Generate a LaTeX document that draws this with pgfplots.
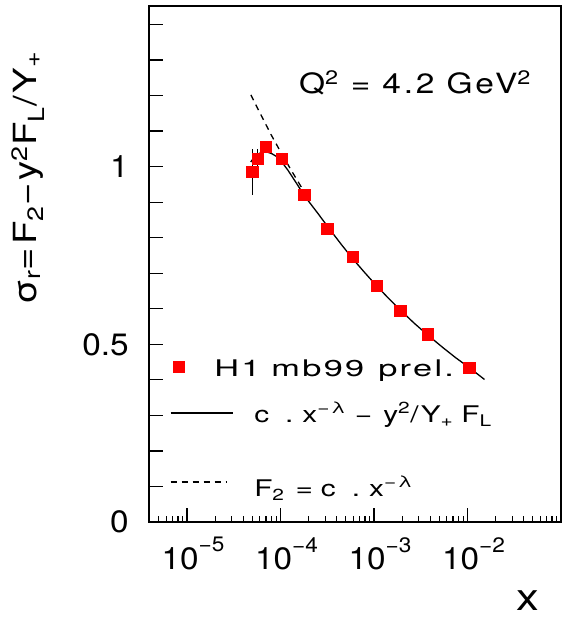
\documentclass[border=0pt]{standalone}
\usepackage{fontspec}
\setmainfont{TeX Gyre Heros}
\newfontfamily\txtfont[FakeStretch=1.2,LetterSpace=10]{TeX Gyre Heros}
\newfontfamily\legtfont[FakeStretch=1.3,LetterSpace=10]{TeX Gyre Heros}
\newfontfamily\legwfont[FakeStretch=1.5,LetterSpace=10]{TeX Gyre Heros}
\newfontfamily\tkfont[FakeStretch=1.08]{TeX Gyre Heros}
\usepackage{pgfplots}
\pgfplotsset{compat=1.18}
\newcommand\tickfont{\tkfont\fontsize{31}{31}\selectfont}
\newcommand\legfont{\legtfont\fontsize{23}{23}\selectfont}
\newcommand\ex[1]{\raisebox{0.58em}{\fontsize{21}{21}\selectfont #1}}
\pgfplotsset{
  solidleg/.style={legend image code/.code={\draw[##1] (0bp,0bp) -- (62bp,0bp);}},
  dashleg/.style={legend image code/.code={\draw[##1] (0bp,0bp) -- (56bp,0bp);}},
}

\pgfplotstableread{
x y e
5.0e-5 0.985 0.064
5.73e-5 1.021 0.029
6.97e-5 1.055 0.018
1.035e-4 1.022 0.012
1.795e-4 0.920 0.008
3.19e-4 0.825 0.006
5.97e-4 0.745 0.005
1.07e-3 0.664 0.005
1.92e-3 0.594 0.005
3.80e-3 0.528 0.005
1.05e-2 0.433 0.005
}\datatab

\pgfplotstableread{
x y
4.8e-5 1.013
5.2e-5 1.025
5.6e-5 1.033
6.2e-5 1.040
7.0e-5 1.042
8.0e-5 1.037
9.0e-5 1.029
1.0e-4 1.018
1.2e-4 0.990
1.5e-4 0.951
1.8e-4 0.918
2.5e-4 0.869
3.2e-4 0.831
4.5e-4 0.780
6.0e-4 0.739
8.0e-4 0.701
1.07e-3 0.664
1.4e-3 0.632
1.92e-3 0.596
2.7e-3 0.559
3.8e-3 0.525
5.5e-3 0.490
7.5e-3 0.462
1.05e-2 0.434
1.52e-2 0.401
}\solidtab

\pgfplotstableread{
x y
4.82e-5 1.202
6.0e-5 1.152
8.0e-5 1.088
1.0e-4 1.042
1.3e-4 0.990
1.63e-4 0.947
2.0e-4 0.909
}\dashtab

\begin{document}
\begin{tikzpicture}
\begin{axis}[
  name=ax,
  scale only axis, width=412bp, height=516bp,
  xmode=log, xmin=3.92e-6, xmax=0.1, ymin=0, ymax=1.452,
  axis line style={line width=1.2bp},
  every tick/.style={black, line width=1.2bp},
  tick align=inside, tick pos=left,
  major tick length=14bp, minor tick length=6bp,
  xtick={1e-5,1e-4,1e-3,1e-2},
  xticklabels={10\ex{−5},10\ex{−4},10\ex{−3},10\ex{−2}},
  minor xtick={4e-6,5e-6,6e-6,7e-6,8e-6,9e-6,
    2e-5,3e-5,4e-5,5e-5,6e-5,7e-5,8e-5,9e-5,
    2e-4,3e-4,4e-4,5e-4,6e-4,7e-4,8e-4,9e-4,
    2e-3,3e-3,4e-3,5e-3,6e-3,7e-3,8e-3,9e-3,
    2e-2,3e-2,4e-2,5e-2,6e-2,7e-2,8e-2,9e-2},
  ytick={0,0.1,0.2,0.3,0.4,0.5,0.6,0.7,0.8,0.9,1,1.1,1.2,1.3,1.4},
  yticklabels={0,,,,,0.5,,,,,1,,,,},
  tick label style={font=\tickfont},
  xticklabel style={inner sep=0pt, anchor=north, yshift=-15bp, xshift=6bp},
  yticklabel style={inner sep=0pt, anchor=east, xshift=-20bp},
  xlabel={x},
  xlabel style={font=\txtfont\fontsize{38}{38}\selectfont, inner sep=0pt, at={(axis description cs:0.92,-0.153)}, anchor=center},
  ylabel={σ\textsubscript{r}=F\textsubscript{2}−y\textsuperscript{2}F\textsubscript{L}/Y\textsubscript{+}},
  ylabel style={font=\txtfont\fontsize{32}{32}\selectfont, inner sep=0pt, at={(axis description cs:-0.2935,0.667)}, anchor=center},
  legend style={draw=none, fill=none, inner sep=0pt, outer sep=0pt, row sep=3bp, column sep=21bp,
    cells={anchor=west}, nodes={inner sep=0pt, text height=20bp, text depth=0bp, font=\legfont},
    at={(axis description cs:0.05097,0.3198)}, anchor=north west},
  clip=false,
]
\addplot[only marks, mark=none, forget plot,
  error bars/.cd, y dir=both, y explicit, error mark=none,
  error bar style={black, line width=1bp}]
  table[x=x, y=y, y error=e] {\datatab};
\addplot[only marks, mark=square*, mark size=5.75bp, red, mark options={draw=red, fill=red, line width=0pt}]
  table[x=x, y=y] {\datatab};
\addlegendentry{\hspace*{-40bp}\legwfont H1\hspace{11bp}mb99\hspace{14bp}prel.}
\addlegendimage{empty legend}
\addlegendentry{\mbox{}}
\addplot[black, line width=1.3bp, mark=none, solidleg]
  table[x=x, y=y] {\solidtab};
\addlegendentry{c\hspace{16bp}.\hspace{9bp}x\textsuperscript{−λ}\hspace{9bp}−\hspace{11bp}y\textsuperscript{2}/Y\textsubscript{+}\hspace{8bp}F\textsubscript{L}}
\addlegendimage{empty legend}
\addlegendentry{\mbox{}}
\addlegendimage{empty legend}
\addlegendentry{\mbox{}}
\addplot[black, line width=1.3bp, mark=none, dash pattern=on 6bp off 5bp, dashleg]
  table[x=x, y=y] {\dashtab};
\addlegendentry{\raisebox{-5bp}{F\textsubscript{2}\hspace{11bp}=\hspace{8bp}c\hspace{16bp}.\hspace{9bp}x\textsuperscript{−λ}}}
\node[font=\txtfont\fontsize{28}{28}\selectfont, anchor=center] at (axis description cs:0.6456,0.851)
  {Q\textsuperscript{2} = 4.2 GeV\textsuperscript{2}};
\end{axis}
\pgfresetboundingbox
\path[use as bounding box] ([shift={(-149bp,-98bp)}]ax.south west) rectangle ([shift={(10bp,6bp)}]ax.north east);
\end{tikzpicture}
\end{document}
